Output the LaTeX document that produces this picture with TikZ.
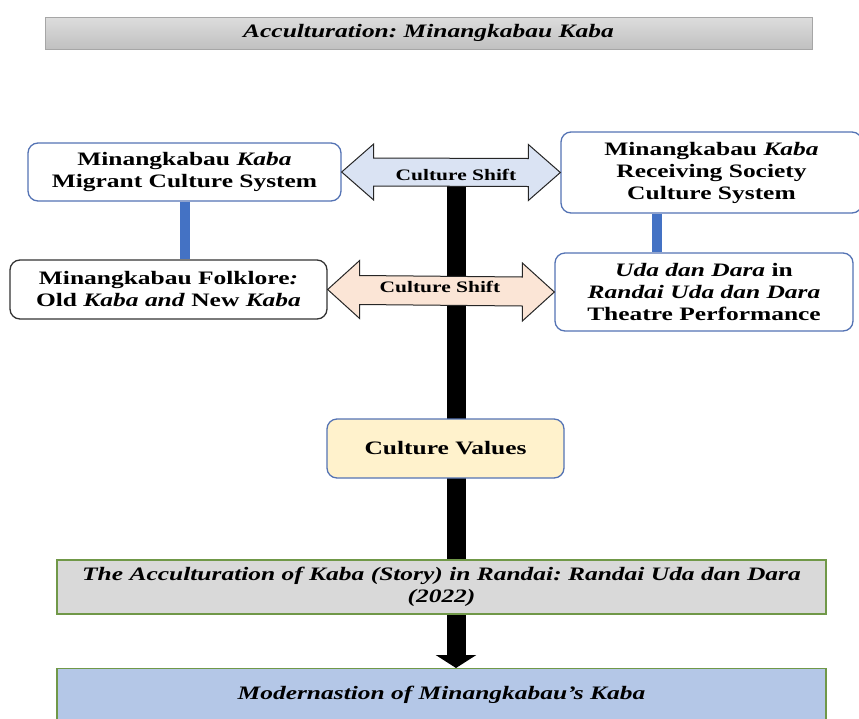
\documentclass[tikz,border=0pt]{standalone}
\usepackage{fontspec}
\setmainfont{Liberation Serif}[FakeStretch=1.34]
\usepackage{tikz}
\usetikzlibrary{calc,arrows.meta,backgrounds}
\definecolor{boxblue}{RGB}{84,115,180}
\definecolor{linkblue}{RGB}{68,114,196}
\definecolor{shiftblue}{RGB}{218,227,243}
\definecolor{shiftpeach}{RGB}{251,229,214}
\definecolor{valuefill}{RGB}{255,242,204}
\definecolor{storyfill}{RGB}{217,217,217}
\definecolor{modernfill}{RGB}{180,199,231}
\definecolor{greenline}{RGB}{112,152,72}
\definecolor{titletop}{RGB}{221,221,221}
\definecolor{titlebottom}{RGB}{192,192,192}
\frenchspacing

\begin{document}
\begin{tikzpicture}[x=1pt,y=-1pt,
    box/.style={draw=boxblue,line width=1.3pt,rounded corners=10pt,fill=white,
      inner sep=0pt,align=center,font=\fontsize{19}{22}\selectfont\bfseries},
    wide/.style={draw=greenline,line width=1.3pt,inner sep=0pt,align=center,
      minimum width=769pt,font=\fontsize{19}{22}\selectfont\bfseries\itshape},
    shiftarrow/.style={draw=black!85,line width=1pt},
    shifttext/.style={font=\fontsize{16}{18}\selectfont\bfseries},
    link/.style={draw=linkblue,line width=10pt}]
    \useasboundingbox (0,0) rectangle (859,718);
    \clip (0,0) rectangle (859,718);
        \node (title) at (428.5,33) [draw=black!35,line width=0.6pt,top color=titletop,bottom color=titlebottom,
          minimum width=767pt,minimum height=32pt,inner sep=0pt,font=\fontsize{19}{22}\selectfont\bfseries\itshape]
          {Acculturation: Minangkabau Kaba};
        \node (migrant) at (184.5,172) [box,minimum width=313pt,minimum height=58pt]
          {Minangkabau \textit{Kaba}\\Migrant Culture System};
        \node (receive) at (711.5,172.5) [box,minimum width=301pt,minimum height=81pt]
          {Minangkabau \textit{Kaba}\\Receiving Society\\Culture System};
        \node (folklore) at (168.5,289.5) [box,draw=black!80,minimum width=317pt,minimum height=59pt]
          {Minangkabau Folklore\textit{:}\\Old \textit{Kaba and} New \textit{Kaba}};
        \node (uda) at (704,292) [box,minimum width=298pt,minimum height=78pt]
          {\textit{Uda dan Dara} in\\\textit{Randai Uda dan Dara}\\Theatre Performance};
        \node (values) at (445.5,448.5) [box,fill=valuefill,minimum width=237pt,minimum height=59pt]
          {Culture Values};
        \node (story) at (441.5,587) [wide,fill=storyfill,minimum height=54pt]
          {The Acculturation of Kaba (Story) in Randai: Randai Uda dan Dara\\(2022)};
        \node (modern) at (441.5,668) [wide,anchor=north,fill=modernfill,minimum height=52pt]
          {Modernastion of Minangkabau’s Kaba};

        \draw[link] (migrant.south) -- (migrant.south |- folklore.north);
        \coordinate (rlink) at ([xshift=-55pt]receive.south);
        \draw[link] (rlink) -- (rlink |- uda.north);

        \draw[shiftarrow,fill=shiftblue] (migrant.east) -- ++(32,-28) -- ++(0,14) -- ($(receive.west)+(-32,-14)$)
          -- ++(0,-14) -- (receive.west) -- ++(-32,28) -- ++(0,-14) -- ($(migrant.east)+(32,14)$) -- ++(0,14) -- cycle;
        \node (shift1) at (456,175) [shifttext] {Culture Shift};
        \draw[shiftarrow,fill=shiftpeach] (folklore.east) -- ++(32,-29) -- ++(0,15) -- ($(uda.west)+(-32,-15)$)
          -- ++(0,-14) -- (uda.west) -- ++(-32,29) -- ++(0,-15) -- ($(folklore.east)+(32,15)$) -- ++(0,14) -- cycle;
        \node (shift2) at (440,287) [shifttext] {Culture Shift};

        \begin{scope}[on background layer]
        \draw[line width=19pt,-{Triangle[length=13pt,width=40pt]}] (shift1.center) -- (shift1.center |- modern.north);
        \end{scope}
    \end{tikzpicture}
\end{document}
